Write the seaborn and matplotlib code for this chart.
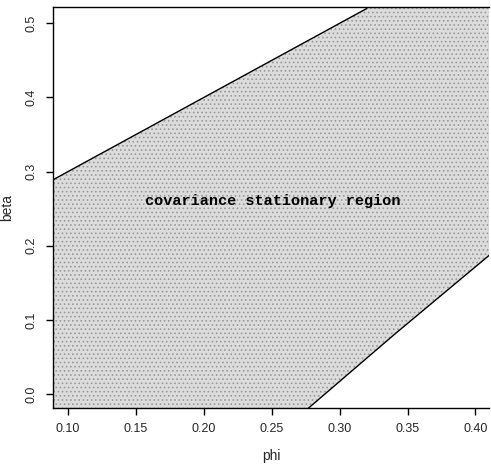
import numpy as np
import pandas as pd
import matplotlib
matplotlib.use("Agg")
import matplotlib.pyplot as plt
import seaborn as sns

# boundary lines
upper_phi = [0.089, 0.10, 0.20, 0.32]
upper_beta = [0.289, 0.30, 0.40, 0.52]
lower_phi = [0.277, 0.34, 0.41]
lower_beta = [-0.019, 0.080, 0.187]

phi_lim = (0.089, 0.41)
beta_lim = (-0.019, 0.522)
phi_ticks = [0.10, 0.15, 0.20, 0.25, 0.30, 0.35, 0.40]
beta_ticks = [0.0, 0.1, 0.2, 0.3, 0.4, 0.5]

sns.set_theme(style="ticks")
plt.rcParams["font.family"] = ["Liberation Sans", "DejaVu Sans"]
plt.rcParams["hatch.color"] = "#8c8c8c"
plt.rcParams["hatch.linewidth"] = 0.7

fig = plt.figure(figsize=(4.91, 4.66), dpi=100)
ax = fig.add_axes([0.108, 0.124, 0.888, 0.861])

# shaded stationary region
grid = np.linspace(phi_lim[0], phi_lim[1], 400)
top = np.minimum(np.interp(grid, upper_phi, upper_beta, right=10), beta_lim[1])
bot = np.maximum(np.interp(grid, lower_phi, lower_beta, left=-10), beta_lim[0])
ax.fill_between(grid, bot, top, facecolor="#dcdcdc", hatch="....",
                edgecolor="#999999", linewidth=0)

up = pd.DataFrame({"phi": upper_phi, "beta": upper_beta})
lo = pd.DataFrame({"phi": lower_phi, "beta": lower_beta})
sns.lineplot(data=up, x="phi", y="beta", color="black", lw=1, ax=ax, sort=False)
sns.lineplot(data=lo, x="phi", y="beta", color="black", lw=1, ax=ax, sort=False)

ax.text(0.251, 0.261, "covariance stationary region", ha="center", va="center",
        fontsize=11, color="black", fontweight="semibold",
        family=["Liberation Mono", "DejaVu Sans Mono"])

ax.set_xlim(*phi_lim)
ax.set_ylim(*beta_lim)
ax.set_xticks(phi_ticks)
ax.set_xticklabels([f"{t:.2f}" for t in phi_ticks], fontsize=9)
ax.set_yticks(beta_ticks)
ax.set_yticklabels([f"{t:.1f}" for t in beta_ticks], fontsize=9, rotation=90, va="center")
ax.set_xlabel("phi", fontsize=10, labelpad=10)
ax.set_ylabel("beta", fontsize=10, labelpad=8)
ax.tick_params(length=5, width=1, color="black", pad=6)
for s in ["left", "bottom", "top"]:
    ax.spines[s].set_color("black")
    ax.spines[s].set_linewidth(1)
ax.spines["right"].set_visible(False)

fig.savefig("out.png", dpi=100)
